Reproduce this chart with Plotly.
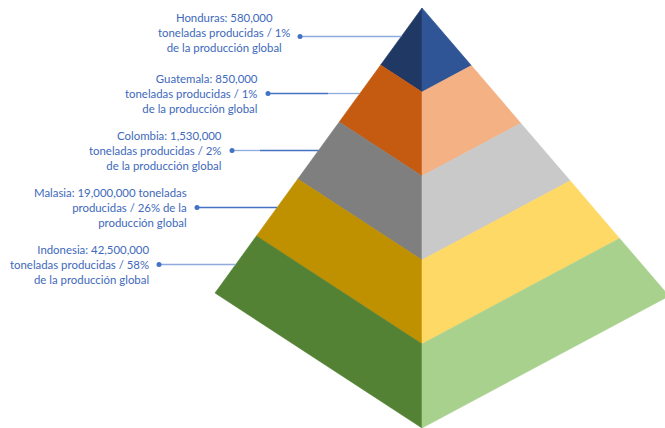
import plotly.graph_objects as go

# Producción por país (toneladas) y participación en la producción global (%)
countries = ["Honduras", "Guatemala", "Colombia", "Malasia", "Indonesia"]
tonnes = [580000, 850000, 1530000, 19000000, 42500000]
shares = [1, 1, 2, 26, 58]

# Colores de cada nivel: cara izquierda (sombra) y cara derecha (luz)
left_colors = ["#203864", "#C55A11", "#7F7F7F", "#BF9000", "#548235"]
right_colors = ["#2F5597", "#F4B183", "#C9C9C9", "#FFD966", "#A9D18E"]

# Geometría de la pirámide en coordenadas de pantalla
W, H = 665, 428
apex = (422, 8)
left_corner = (215, 293)
front_corner = (422, 428)
right_corner = (669, 296)

# Etiquetas: posición x del punto y color del conector (lado punto, lado pirámide, corte)
label_dot_x = [300, 268, 232, 197, 159]
label_yshift = [4, 0, 0, 0, 0]
DARK, LIGHT = "#4472C4", "#8FAADC"
leader_style = [
    (LIGHT, LIGHT, None),
    (DARK, LIGHT, 328),
    (LIGHT, DARK, 260),
    (DARK, DARK, None),
    (LIGHT, LIGHT, None),
]
label_align = ["center", "right", "right", "right", "right"]


def lerp(p, q, t):
    return (p[0] + (q[0] - p[0]) * t, p[1] + (q[1] - p[1]) * t)


def fmt(n):
    return f"{n:,}"


def label_text(i):
    name, t, s = countries[i], fmt(tonnes[i]), shares[i]
    if name == "Malasia":
        return f"{name}: {t} toneladas<br>producidas / {s}% de la<br>producción global"
    return f"{name}: {t}<br>toneladas producidas / {s}%<br>de la producción global"


n = len(countries)
fig = go.Figure()

for i in range(n):
    t0, t1 = i / n, (i + 1) / n
    if i == 0:
        top_l = top_c = top_r = apex
    else:
        top_l = lerp(apex, left_corner, t0)
        top_c = lerp(apex, front_corner, t0)
        top_r = lerp(apex, right_corner, t0)
    bot_l = lerp(apex, left_corner, t1)
    bot_c = lerp(apex, front_corner, t1)
    bot_r = lerp(apex, right_corner, t1)

    for pts, col in (
        ([top_l, top_c, bot_c, bot_l], left_colors[i]),
        ([top_c, top_r, bot_r, bot_c], right_colors[i]),
    ):
        xs = [p[0] for p in pts] + [pts[0][0]]
        ys = [p[1] for p in pts] + [pts[0][1]]
        fig.add_trace(go.Scatter(
            x=xs, y=ys, mode="lines", fill="toself", fillcolor=col,
            line=dict(color=col, width=0.6), hoverinfo="skip", showlegend=False,
        ))

# Conectores, puntos y textos de cada nivel
for i in range(n):
    edge_pt = lerp(apex, left_corner, (i + 0.5) / n)
    y = edge_pt[1]
    x0 = label_dot_x[i]
    c_dot, c_pyr, split = leader_style[i]
    if split is None:
        segs = [(x0, edge_pt[0], c_dot)]
    else:
        segs = [(x0, split, c_dot), (split, edge_pt[0], c_pyr)]
    for xa, xb, col in segs:
        fig.add_trace(go.Scatter(
            x=[xa, xb], y=[y, y], mode="lines",
            line=dict(color=col, width=1.3), hoverinfo="skip", showlegend=False,
        ))
    fig.add_trace(go.Scatter(
        x=[x0], y=[y], mode="markers",
        marker=dict(color=DARK, size=5), hoverinfo="skip", showlegend=False,
    ))
    fig.add_annotation(
        x=x0 - 8, y=y, xref="x", yref="y", xanchor="right", yanchor="middle",
        yshift=label_yshift[i],
        text=label_text(i), showarrow=False, align=label_align[i],
        font=dict(family="Lato", size=11.4, color="#4069BB"),
    )

fig.update_layout(
    width=W, height=H,
    margin=dict(l=0, r=0, t=0, b=0),
    paper_bgcolor="white", plot_bgcolor="white",
    xaxis=dict(range=[0, W], visible=False, fixedrange=True),
    yaxis=dict(range=[H, 0], visible=False, fixedrange=True),
    showlegend=False,
)

fig.write_html("out.html", config={"displayModeBar": False})
